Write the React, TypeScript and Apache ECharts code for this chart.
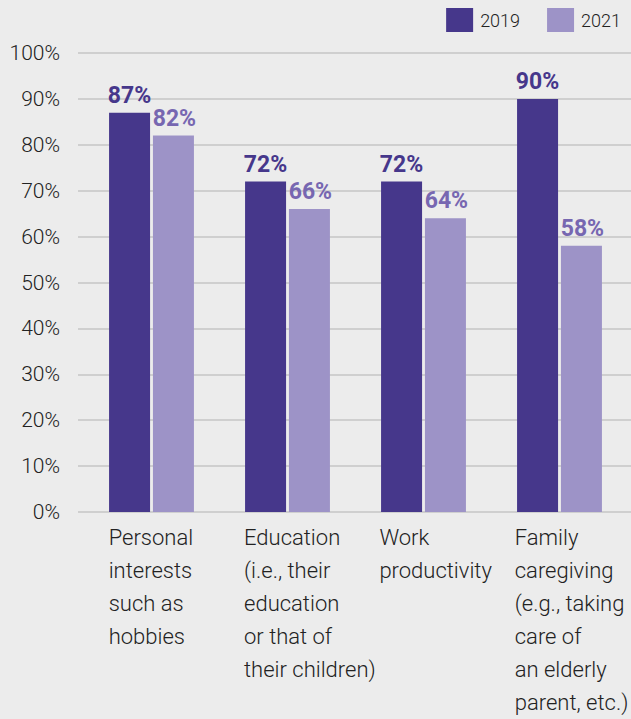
import React, { useEffect, useRef } from "react";
import * as echarts from "echarts";

const categories = [
  "Personal\ninterests\nsuch as\nhobbies",
  "Education\n(i.e., their\neducation\nor that of\ntheir children)",
  "Work\nproductivity",
  "Family\ncaregiving\n(e.g., taking\ncare of\nan elderly\nparent, etc.)",
];
const seriesNames = ["2019", "2021"];
const values2019 = [87, 72, 72, 90];
const values2021 = [82, 66, 64, 58];
const yMin = 0;
const yMax = 100;
const yInterval = 10;

const FONT = "Roboto, 'Noto Sans', sans-serif";

export default function App() {
  const ref = useRef<HTMLDivElement>(null);
  useEffect(() => {
    if (!ref.current) return;
    const chart = echarts.init(ref.current, null, { renderer: "svg" });
    const hiddenY = {
      type: "value",
      min: yMin,
      max: yMax,
      interval: yInterval,
      show: false,
    };
    const option: any = {
      animation: false,
      backgroundColor: "#ececec",
      textStyle: { fontFamily: FONT },
      legend: {
        data: seriesNames,
        right: 10,
        top: 8,
        padding: 0,
        itemWidth: 27,
        itemHeight: 24,
        itemGap: 27,
        icon: "rect",
        textStyle: {
          fontFamily: FONT,
          fontSize: 18,
          fontWeight: 300,
          color: "#222",
          padding: [0, 0, 0, 2],
        },
      },
      grid: [
        { left: 78, right: 0, top: 53, bottom: 207 },
        { left: 83.5, right: 3.5, top: 53, bottom: 207 },
        { left: 41, right: 46, top: 53, bottom: 207 },
      ],
      xAxis: [
        { type: "category", gridIndex: 0, data: categories, show: false },
        {
          type: "category",
          gridIndex: 1,
          data: categories,
          axisLine: { show: false },
          axisTick: { show: false },
          axisLabel: { show: false },
        },
        {
          type: "category",
          gridIndex: 2,
          data: categories,
          axisLine: { show: false },
          axisTick: { show: false },
          axisLabel: {
            interval: 0,
            align: "left",
            verticalAlign: "top",
            margin: 10,
            fontFamily: FONT,
            fontSize: 22,
            fontWeight: 300,
            lineHeight: 33,
            color: "#222",
          },
        },
      ],
      yAxis: [
        {
          type: "value",
          gridIndex: 0,
          min: yMin,
          max: yMax,
          interval: yInterval,
          axisLine: { show: false },
          axisTick: { show: false },
          axisLabel: {
            formatter: (v: number) => `${v}%`,
            margin: 18,
            fontFamily: FONT,
            fontSize: 21,
            fontWeight: 300,
            color: "#222",
          },
          splitLine: { lineStyle: { color: "#c6c6c6", width: 1.5 } },
        },
        { ...hiddenY, gridIndex: 1 },
        { ...hiddenY, gridIndex: 2 },
      ],
      series: [
        {
          name: seriesNames[0],
          type: "bar",
          xAxisIndex: 1,
          yAxisIndex: 1,
          data: values2019,
          barWidth: 41,
          barGap: "7%",
          itemStyle: { color: "#46378b" },
          label: {
            show: true,
            position: "top",
            distance: 6,
            formatter: "{c}%",
            fontFamily: FONT,
            fontSize: 23,
            fontWeight: "bold",
            color: "#46378b",
          },
        },
        {
          name: seriesNames[1],
          type: "bar",
          xAxisIndex: 1,
          yAxisIndex: 1,
          data: values2021,
          barWidth: 41,
          barGap: "7%",
          itemStyle: { color: "#9d93c7" },
          label: {
            show: true,
            position: "top",
            distance: 6,
            offset: [1, 0],
            formatter: "{c}%",
            fontFamily: FONT,
            fontSize: 23,
            fontWeight: "bold",
            color: "#7767b1",
          },
        },
      ],
    };
    chart.setOption(option);
    return () => chart.dispose();
  }, []);
  return (
    <div
      ref={ref}
      style={{ position: "fixed", left: 0, top: 0, width: 631, height: 719 }}
    />
  );
}
